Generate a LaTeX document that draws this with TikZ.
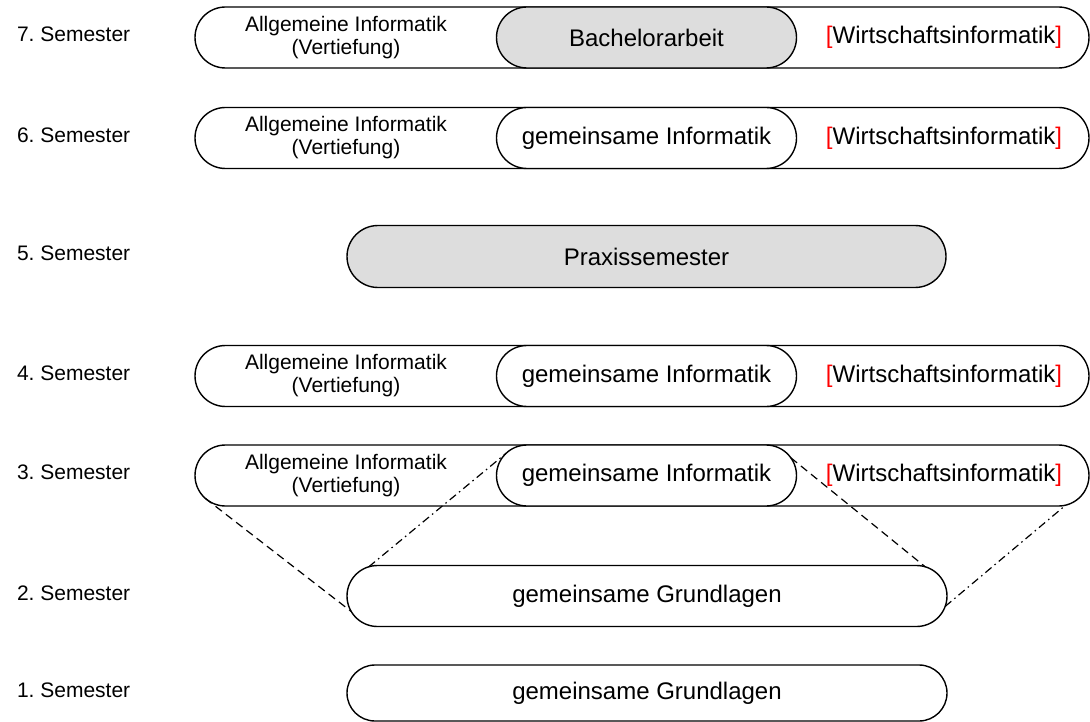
\documentclass[tikz,border=0pt]{standalone}
\usepackage{fontspec}
\setmainfont{Liberation Sans}
\usetikzlibrary{shapes.misc}
\definecolor{boxgray}{HTML}{DDDDDD}
\newcommand{\rk}[1]{\textcolor{red}{#1}}
\frenchspacing

\begin{document}
\begin{tikzpicture}[x=1pt,y=-1pt,
  every node/.style={outer sep=0pt, inner sep=0pt},
  band/.style={rounded rectangle, draw, line width=1.4pt, fill=white, minimum height=61pt},
  wide/.style={band, minimum width=894pt},
  mid/.style={band, minimum width=300pt, font=\fontsize{24}{28}\selectfont},
  lab/.style={anchor=west, font=\fontsize{21}{23}\selectfont},
  small/.style={align=center, font=\fontsize{21}{23}\selectfont},
  big/.style={font=\fontsize{24}{28}\selectfont},
  conn/.style={line width=1.2pt}]
\useasboundingbox (0,0) rectangle (1090,722);

% semester labels
\node[lab] (l7) at (17,34.5) {7. Semester};
\node[lab] (l6) at (17,135) {6. Semester};
\node[lab] (l5) at (17,253.5) {5. Semester};
\node[lab] (l4) at (17,373) {4. Semester};
\node[lab] (l3) at (17,472.5) {3. Semester};
\node[lab] (l2) at (17,593) {2. Semester};
\node[lab] (l1) at (17,690) {1. Semester};

% 7. semester
\node[wide] (s7) at (642,37.5) {};
\node[mid, fill=boxgray] (b7) at (646.5,37.5) {Bachelorarbeit};
\node[small] (a7) at (346,37.5) {Allgemeine Informatik\\(Vertiefung)};
\node[big] (w7) at (944,37.5) {\rk{[}Wirtschaftsinformatik\rk{]}};

% 6. semester
\node[wide] (s6) at (642,138) {};
\node[mid] (i6) at (646.5,138) {gemeinsame Informatik};
\node[small] (a6) at (346,138) {Allgemeine Informatik\\(Vertiefung)};
\node[big] (w6) at (944,138) {\rk{[}Wirtschaftsinformatik\rk{]}};

% 5. semester
\node[band, fill=boxgray, minimum width=599pt, minimum height=62pt, font=\fontsize{24}{28}\selectfont] (p5) at (646.5,256.5) {Praxissemester};

% 4. semester
\node[wide] (s4) at (642,376) {};
\node[mid] (i4) at (646.5,376) {gemeinsame Informatik};
\node[small] (a4) at (346,376) {Allgemeine Informatik\\(Vertiefung)};
\node[big] (w4) at (944,376) {\rk{[}Wirtschaftsinformatik\rk{]}};

% 3. semester
\node[wide] (s3) at (642,475.5) {};
\node[mid] (i3) at (646.5,475.5) {gemeinsame Informatik};
\node[small] (a3) at (346,475.5) {Allgemeine Informatik\\(Vertiefung)};
\node[big] (w3) at (944,475.5) {\rk{[}Wirtschaftsinformatik\rk{]}};

% 2. and 1. semester
\node[band, minimum width=600pt, font=\fontsize{24}{28}\selectfont] (g2) at (647,596) {gemeinsame Grundlagen};
\node[band, minimum width=600pt, minimum height=56pt, font=\fontsize{24}{28}\selectfont] (g1) at (647,693) {gemeinsame Grundlagen};

% funnel lines
\draw[conn, dash pattern=on 8pt off 5pt] (s3.183) -- (g2.183);
\draw[conn, dash pattern=on 8pt off 5pt] (i3.7) -- (g2.6);
\draw[conn, dash pattern=on 8pt off 4pt on 1.5pt off 4pt] (g2.174) -- (i3.171);
\draw[conn, dash pattern=on 8pt off 4pt on 1.5pt off 4pt] (g2.358) -- (s3.356);
\end{tikzpicture}
\end{document}
